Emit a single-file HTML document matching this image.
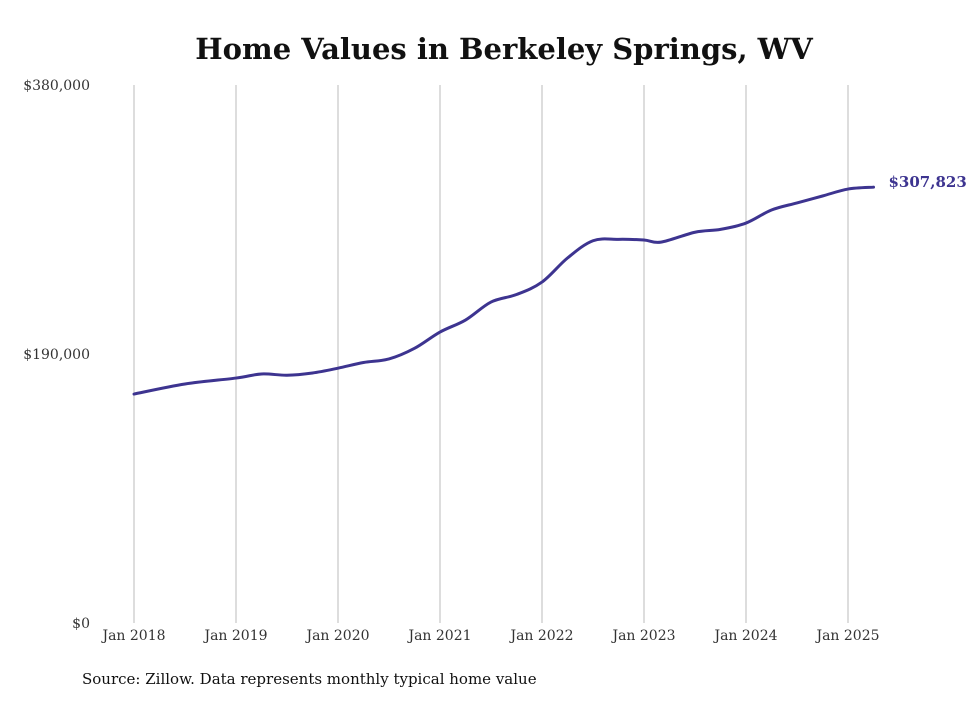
<!DOCTYPE html>
<html><head><meta charset="utf-8"><style>
body{margin:0;background:#fff;width:980px;height:699px;overflow:hidden;font-family:"DejaVu Serif","Liberation Serif",serif;}
</style></head><body>
<svg id="chart" width="980" height="699" xmlns="http://www.w3.org/2000/svg">
<text x="504" y="59" text-anchor="middle" font-size="29" font-weight="bold" fill="#111">Home Values in Berkeley Springs, WV</text>
<g id="grid"></g>
<g id="yaxis"></g>
<g id="xaxis"></g>
<path id="line" fill="none" stroke="#3d3490" stroke-width="3" stroke-linecap="round"/>
<text id="endlabel" font-size="15" font-weight="bold" fill="#3d3490"></text>
<text x="82" y="684" font-size="15" fill="#111">Source: Zillow. Data represents monthly typical home value</text>
</svg>
<script>
const months=[0,6,12,15,18,21,24,27,30,33,36,39,42,45,48,51,54,57,60,62,66,69,72,75,78,81,84,87];
const values=[161700,168800,173000,175900,175000,176600,180000,184000,186500,194000,205500,214000,226700,232000,240800,257800,270000,271000,270500,269000,276000,278000,282500,291700,296700,301600,306500,307823];
const yTicks=[0,190000,380000];
const yTickLabels=["$0","$190,000","$380,000"];
const xTickMonths=[0,12,24,36,48,60,72,84];
const xTickLabels=["Jan 2018","Jan 2019","Jan 2020","Jan 2021","Jan 2022","Jan 2023","Jan 2024","Jan 2025"];
const lastLabel="$307,823";
const X0=134,PX=8.5,Y0=623,YS=538/380000;
const x=m=>X0+m*PX, y=v=>Y0-v*YS;
const NS="http://www.w3.org/2000/svg";
const grid=document.getElementById('grid'),xa=document.getElementById('xaxis'),ya=document.getElementById('yaxis');
xTickMonths.forEach((m,i)=>{
 const l=document.createElementNS(NS,'line');
 
 
 l.setAttribute('x1',x(m));l.setAttribute('x2',x(m));l.setAttribute('y1',85);l.setAttribute('y2',Y0);
 l.setAttribute('stroke','#bbb');l.setAttribute('stroke-width','1');grid.appendChild(l);
 const t=document.createElementNS(NS,'text');
 
 
 t.setAttribute('x',x(m));t.setAttribute('y',640);t.setAttribute('text-anchor','middle');
 t.setAttribute('font-size','14');t.setAttribute('fill','#333');
 t.textContent=xTickLabels[i];xa.appendChild(t);
});
yTicks.forEach((v,i)=>{
 const t=document.createElementNS(NS,'text');
 
 
 t.setAttribute('x',90);t.setAttribute('y',y(v)+5);t.setAttribute('text-anchor','end');
 t.setAttribute('font-size','14');t.setAttribute('fill','#333');
 t.textContent=yTickLabels[i];ya.appendChild(t);
});
const pts=values.map((v,i)=>[x(months[i]),y(v)]);
let d=`M${pts[0][0]},${pts[0][1]}`;
for(let i=0;i<pts.length-1;i++){
 const p0=pts[Math.max(0,i-1)],p1=pts[i],p2=pts[i+1],p3=pts[Math.min(pts.length-1,i+2)];
 const c1=[p1[0]+(p2[0]-p0[0])/6,p1[1]+(p2[1]-p0[1])/6],c2=[p2[0]-(p3[0]-p1[0])/6,p2[1]-(p3[1]-p1[1])/6];
 d+=` C${c1[0]},${c1[1]} ${c2[0]},${c2[1]} ${p2[0]},${p2[1]}`;
}
document.getElementById('line').setAttribute('d',d);
const last=pts[pts.length-1],el=document.getElementById('endlabel');
el.setAttribute('x',last[0]+15);el.setAttribute('y',last[1]+0);el.textContent=lastLabel;
</script>
</body></html>
